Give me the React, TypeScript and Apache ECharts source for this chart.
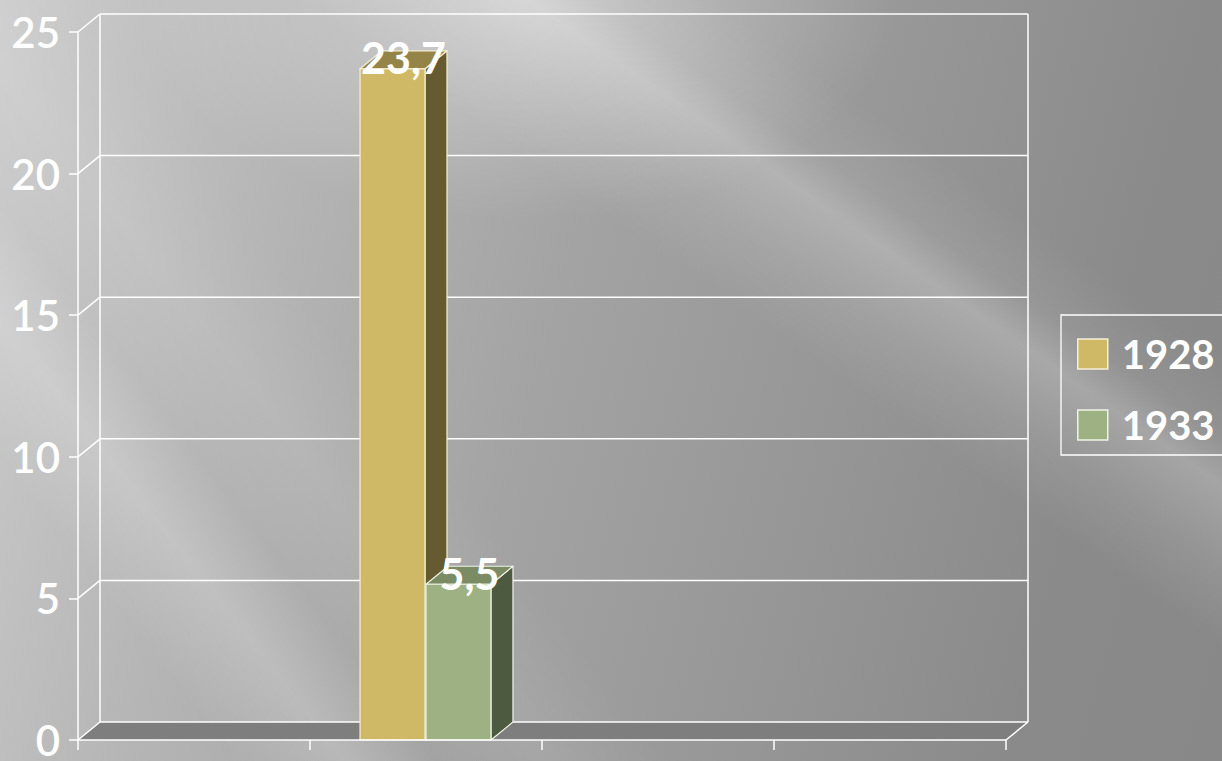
import React, { useEffect, useRef } from 'react';
import * as echarts from 'echarts';

// ---- data ----
const categories: string[] = ['', '', '', ''];
const seriesNames: string[] = ['1928', '1933'];
const values1928: (number | null)[] = [null, 23.7, null, null];
const values1933: (number | null)[] = [null, 5.5, null, null];
const yTicks: number[] = [0, 5, 10, 15, 20, 25];

// ---- style ----
const DX = 22;
const DY = -18;
const FRONT = ['#CFB966', '#9DB182'];
const SIDE = ['#665A31', '#4E5A3F'];
const TOP = ['#958448', '#7B8C64'];
const EDGE = ['#F5F0D8', '#EEF3E6'];
const FONT = 'Lato';

function barSeries(name: string, values: (number | null)[], s: number): any {
  return {
    type: 'custom',
    name,
    z: 3,
    itemStyle: { color: FRONT[s] },
    data: values.map((v, i) => (v == null ? null : [i, v])).filter((d) => d != null),
    encode: { x: 0, y: 1 },
    renderItem: (params: any, api: any) => {
      const cat = api.value(0);
      const val = api.value(1);
      const base = api.coord([cat, 0]);
      const top = api.coord([cat, val]);
      const band = api.size([1, 0])[0];
      const bw = band * 0.28;
      const x0 = base[0] - (bw + 1) + s * (bw + 1);
      const x1 = x0 + bw;
      const y0 = base[1];
      const yT = top[1];
      const stroke = { stroke: EDGE[s], lineWidth: 1.2, lineJoin: 'round' };
      return {
        type: 'group',
        children: [
          {
            type: 'polygon',
            shape: { points: [[x1, yT], [x1 + DX, yT + DY], [x1 + DX, y0 + DY], [x1, y0]] },
            style: { fill: SIDE[s], ...stroke },
          },
          {
            type: 'polygon',
            shape: { points: [[x0, yT], [x0 + DX, yT + DY], [x1 + DX, yT + DY], [x1, yT]] },
            style: { fill: TOP[s], ...stroke },
          },
          {
            type: 'rect',
            shape: { x: x0, y: yT, width: bw, height: y0 - yT },
            style: { fill: FRONT[s], ...stroke },
          },
          {
            type: 'text',
            style: {
              text: String(val).replace('.', ','),
              x: (x0 + x1 + DX) / 2,
              y: yT + DY / 2 - 2,
              fill: '#ffffff',
              fontSize: 43,
              fontFamily: FONT,
              fontWeight: 'bold',
              align: 'center',
              verticalAlign: 'middle',
            },
          },
        ],
      };
    },
  };
}

const frameSeries: any = {
  type: 'custom',
  name: 'frame',
  silent: true,
  z: 1,
  data: [[0, 0]],
  encode: { x: 0, y: 1 },
  renderItem: (params: any, api: any) => {
    const band = api.size([1, 0])[0];
    const first = api.coord([0, 0]);
    const last = api.coord([categories.length - 1, 0]);
    const xl = first[0] - band / 2;
    const xr = last[0] + band / 2;
    const y0 = first[1];
    const yTop = api.coord([0, yTicks[yTicks.length - 1]])[1];
    const line = (x1: number, y1: number, x2: number, y2: number) => ({
      type: 'line',
      shape: { x1, y1, x2, y2 },
      style: { stroke: '#ffffff', lineWidth: 1.5 },
    });
    const children: any[] = [
      {
        type: 'polygon',
        shape: { points: [[xl, y0], [xr, y0], [xr + DX, y0 + DY], [xl + DX, y0 + DY]] },
        style: { fill: '#7e7e7e' },
      },
    ];
    yTicks.forEach((v) => {
      const y = api.coord([0, v])[1];
      children.push(line(xl, y, xl + DX, y + DY));
      children.push(line(xl + DX, y + DY, xr + DX, y + DY));
    });
    children.push(line(xl + DX, yTop + DY, xl + DX, y0 + DY));
    children.push(line(xr + DX, yTop + DY, xr + DX, y0 + DY));
    children.push(line(xr, y0, xr + DX, y0 + DY));
    return { type: 'group', children };
  },
};

export default function App() {
  const ref = useRef<HTMLDivElement>(null);
  useEffect(() => {
    if (!ref.current) return;
    const chart = echarts.init(ref.current, undefined, { renderer: 'svg' });
    chart.setOption({
      animation: false,
      backgroundColor: 'transparent',
      grid: { left: 78, top: 32, width: 928, height: 708, containLabel: false, outerBoundsMode: 'none' },
      xAxis: {
        type: 'category',
        data: categories,
        z: 10,
        boundaryGap: true,
        axisLine: { show: true, lineStyle: { color: '#ffffff', width: 1.5 } },
        axisTick: { show: true, length: 10, lineStyle: { color: '#ffffff', width: 1.5 } },
        axisLabel: { show: false },
        splitLine: { show: false },
      },
      yAxis: {
        type: 'value',
        min: 0,
        max: 25,
        interval: 5,
        z: 10,
        axisLine: { show: true, lineStyle: { color: '#ffffff', width: 1.5 } },
        axisTick: { show: true, length: 9, lineStyle: { color: '#ffffff', width: 1.5 } },
        axisLabel: {
          show: true,
          color: '#ffffff',
          fontSize: 42,
          fontFamily: FONT,
          fontWeight: 600,
          margin: 18,
          verticalAlign: 'middle',
          padding: [8, 0, 0, 0],
          formatter: (v: number) => (yTicks.indexOf(v) >= 0 ? String(v) : ''),
        },
        splitLine: { show: false },
      },
      legend: {
        show: true,
        orient: 'vertical',
        left: 1061,
        top: 315,
        padding: [19, 12, 10, 16],
        itemWidth: 30,
        itemHeight: 30,
        itemGap: 31,
        icon: 'rect',
        borderColor: '#ffffff',
        borderWidth: 1.3,
        borderRadius: 0,
        selectedMode: false,
        textStyle: {
          color: '#ffffff',
          fontSize: 40,
          fontFamily: FONT,
          fontWeight: 'bold',
          lineHeight: 40,
          padding: [0, 0, 0, 9],
        },
        data: seriesNames.map((n, i) => ({
          name: n,
          itemStyle: { color: FRONT[i], borderColor: EDGE[i], borderWidth: 1.5 },
        })),
      },
      series: [
        frameSeries,
        barSeries(seriesNames[0], values1928, 0),
        barSeries(seriesNames[1], values1933, 1),
      ],
    });
    return () => chart.dispose();
  }, []);

  const bg = [
    'radial-gradient(ellipse 380px 220px at 520px 0px, rgba(255,255,255,0.38), rgba(255,255,255,0) 100%)',
    'linear-gradient(35deg, rgba(255,255,255,0) 60%, rgba(255,255,255,0.10) 65%, rgba(255,255,255,0.24) 70%, rgba(255,255,255,0.08) 73%, rgba(255,255,255,0) 78%)',
    'linear-gradient(52deg, rgba(255,255,255,0) 13%, rgba(255,255,255,0.18) 19%, rgba(255,255,255,0) 24%, rgba(255,255,255,0.08) 30%, rgba(255,255,255,0) 37%)',
    'linear-gradient(105deg, #cdcdcd 0%, #b6b6b6 22%, #a3a3a3 45%, #959595 68%, #8a8a8a 85%, #888888 100%)',
  ].join(', ');

  return (
    <div
      ref={ref}
      style={{
        position: 'absolute',
        left: 0,
        top: 0,
        width: 1222,
        height: 761,
        overflow: 'hidden',
        background: bg,
      }}
    />
  );
}
